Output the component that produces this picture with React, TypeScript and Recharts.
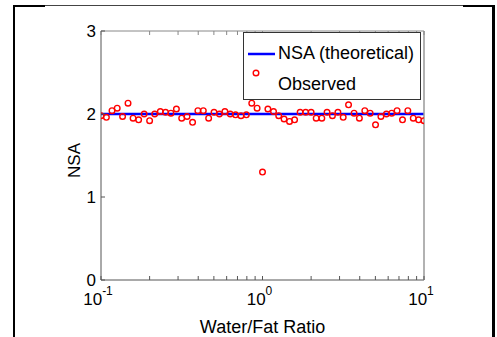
import { ComposedChart, XAxis, YAxis, Scatter, Line, Legend } from "recharts";

// water/fat ratios, 30 per decade
const ratios = [
  0.1, 0.108, 0.117, 0.126, 0.136, 0.147, 0.158, 0.171, 0.185, 0.2,
  0.215, 0.233, 0.251, 0.271, 0.293, 0.316, 0.341, 0.369, 0.398, 0.43,
  0.464, 0.501, 0.541, 0.585, 0.631, 0.681, 0.736, 0.794, 0.858, 0.926,
  1, 1.08, 1.17, 1.26, 1.36, 1.47, 1.58, 1.71, 1.85, 2.0,
  2.15, 2.33, 2.51, 2.71, 2.93, 3.16, 3.41, 3.69, 3.98, 4.3,
  4.64, 5.01, 5.41, 5.85, 6.31, 6.81, 7.36, 7.94, 8.58, 9.26, 10,
];

const observed = [
  1.98, 1.96, 2.04, 2.07, 1.97, 2.13, 1.95, 1.93, 2.0, 1.92,
  2.0, 2.03, 2.02, 2.01, 2.06, 1.95, 1.97, 1.9, 2.04, 2.04,
  1.95, 2.02, 2.0, 2.03, 2.0, 1.99, 1.98, 1.99, 2.13, 2.07,
  1.3, 2.06, 2.03, 1.98, 1.94, 1.91, 1.93, 2.02, 2.02, 2.02,
  1.95, 1.95, 2.02, 1.98, 2.02, 1.96, 2.11, 2.01, 1.95, 2.04,
  2.01, 1.87, 1.97, 2.0, 2.01, 2.04, 1.93, 2.04, 1.95, 1.93, 1.92,
];

const theoreticalNsa = 2;

const xTicks = [0.1, 0.2, 0.3, 0.4, 0.5, 0.6, 0.7, 0.8, 0.9, 1, 2, 3, 4, 5, 6, 7, 8, 9, 10];
const yTicks = [0, 1, 2, 3];

const data = ratios.map((x, i) => ({ x, observed: observed[i], nsa: theoreticalNsa }));

const FONT = "'Liberation Sans', Arial, Helvetica, sans-serif";
const TICK_LEN = 4;

const isDecade = (v: number) => Math.abs(Math.log10(v) - Math.round(Math.log10(v))) < 1e-6;

const BottomTick = (props: any) => {
  const { x, y, payload } = props;
  const v = payload.value;
  const exp = Math.round(Math.log10(v));
  return (
    <g>
      <line x1={x} x2={x} y1={y} y2={y - TICK_LEN} stroke="#555" />
      {isDecade(v) && (
        <text x={x - 3} y={y + 25} textAnchor="middle" fontSize={17} fill="#000" fontFamily={FONT}>
          <tspan>10</tspan>
          <tspan dy={-10} fontSize={12}>{exp}</tspan>
        </text>
      )}
    </g>
  );
};

const TopTick = (props: any) => {
  const { x, y } = props;
  return <line x1={x} x2={x} y1={y} y2={y + TICK_LEN} stroke="#888" />;
};

const LeftTick = (props: any) => {
  const { x, y, payload } = props;
  return (
    <g>
      <line x1={x} x2={x + TICK_LEN} y1={y} y2={y} stroke="#555" />
      <text x={x - 5} y={y} dy="0.36em" textAnchor="end" fontSize={17} fill="#000" fontFamily={FONT}>
        {payload.value}
      </text>
    </g>
  );
};

const RightTick = (props: any) => {
  const { x, y } = props;
  return <line x1={x} x2={x - TICK_LEN} y1={y} y2={y} stroke="#888" />;
};

const renderLegend = () => (
  <svg width={178} height={68} style={{ display: "block" }}>
    <rect x={0.5} y={0.5} width={177} height={67} fill="#fff" stroke="#333" />
    <line x1={5} x2={32} y1={22} y2={22} stroke="#0000ff" strokeWidth={2.5} />
    <text x={35} y={27} fontSize={18} fontFamily={FONT} fill="#000">NSA (theoretical)</text>
    <circle cx={13} cy={41} r={2.8} fill="none" stroke="#ff0000" strokeWidth={1.4} />
    <text x={35} y={58} fontSize={18} fontFamily={FONT} fill="#000">Observed</text>
  </svg>
);

const Ring = (props: any) => (
  <circle cx={props.cx} cy={props.cy} r={2.8} fill="none" stroke="#ff0000" strokeWidth={1.4} />
);

export default function App() {
  return (
    <div style={{ position: "absolute", left: 0, top: 0, width: 497, height: 337, background: "#fff", fontFamily: FONT }}>
      {/* figure frame */}
      <div style={{ position: "absolute", left: 13, top: 5, width: 2, height: 332, background: "#000" }} />
      <div style={{ position: "absolute", left: 492, top: 5, width: 3, height: 332, background: "#000" }} />
      <div style={{ position: "absolute", left: 13, top: 5, width: 480, height: 1, background: "#444" }} />
      <div style={{ position: "absolute", left: 13, top: 5, width: 32, height: 2, background: "#000" }} />
      <div style={{ position: "absolute", left: 463, top: 5, width: 32, height: 2, background: "#000" }} />

      <ComposedChart width={497} height={337} data={data} margin={{ top: 30, right: 72, bottom: 2, left: 71 }}>
        <XAxis
          xAxisId="bottom"
          dataKey="x"
          type="number"
          scale="log"
          domain={[0.1, 10]}
          allowDataOverflow
          ticks={xTicks}
          interval={0}
          height={55}
          tickSize={0}
          tickMargin={0}
          tick={BottomTick}
          axisLine={{ stroke: "#555" }}
          label={{
            content: ({ viewBox }: any) => (
              <text
                x={viewBox.x + viewBox.width / 2}
                y={viewBox.y + 53}
                textAnchor="middle"
                fontSize={18}
                fontFamily={FONT}
                fill="#000"
              >
                Water/Fat Ratio
              </text>
            ),
          }}
        />
        <XAxis
          xAxisId="top"
          orientation="top"
          dataKey="x"
          type="number"
          scale="log"
          domain={[0.1, 10]}
          allowDataOverflow
          ticks={xTicks}
          interval={0}
          height={1}
          tickSize={0}
          tickMargin={0}
          tick={TopTick}
          axisLine={{ stroke: "#888" }}
        />
        <YAxis
          yAxisId="left"
          type="number"
          domain={[0, 3]}
          ticks={yTicks}
          interval={0}
          width={30}
          tickSize={0}
          tickMargin={0}
          tick={LeftTick}
          axisLine={{ stroke: "#555" }}
          label={{
            content: ({ viewBox }: any) => {
              const cx = viewBox.x + 9;
              const cy = viewBox.y + viewBox.height / 2 + 5;
              return (
                <text
                  x={cx}
                  y={cy}
                  transform={`rotate(-90, ${cx}, ${cy})`}
                  textAnchor="middle"
                  fontSize={17}
                  fontFamily={FONT}
                  fill="#000"
                >
                  NSA
                </text>
              );
            },
          }}
        />
        <YAxis
          yAxisId="right"
          orientation="right"
          type="number"
          domain={[0, 3]}
          ticks={yTicks}
          interval={0}
          width={1}
          tickSize={0}
          tickMargin={0}
          tick={RightTick}
          axisLine={{ stroke: "#999", strokeWidth: 1.5 }}
        />
        <Line
          xAxisId="bottom"
          yAxisId="left"
          dataKey="nsa"
          stroke="#0000ff"
          strokeWidth={2.5}
          dot={false}
          isAnimationActive={false}
        />
        <Scatter
          xAxisId="bottom"
          yAxisId="left"
          dataKey="observed"
          shape={Ring}
          isAnimationActive={false}
        />
        <Legend
          verticalAlign="middle"
          align="center"
          content={renderLegend}
          wrapperStyle={{ left: 243, top: 32, width: 178, height: 68 }}
        />
      </ComposedChart>
    </div>
  );
}
